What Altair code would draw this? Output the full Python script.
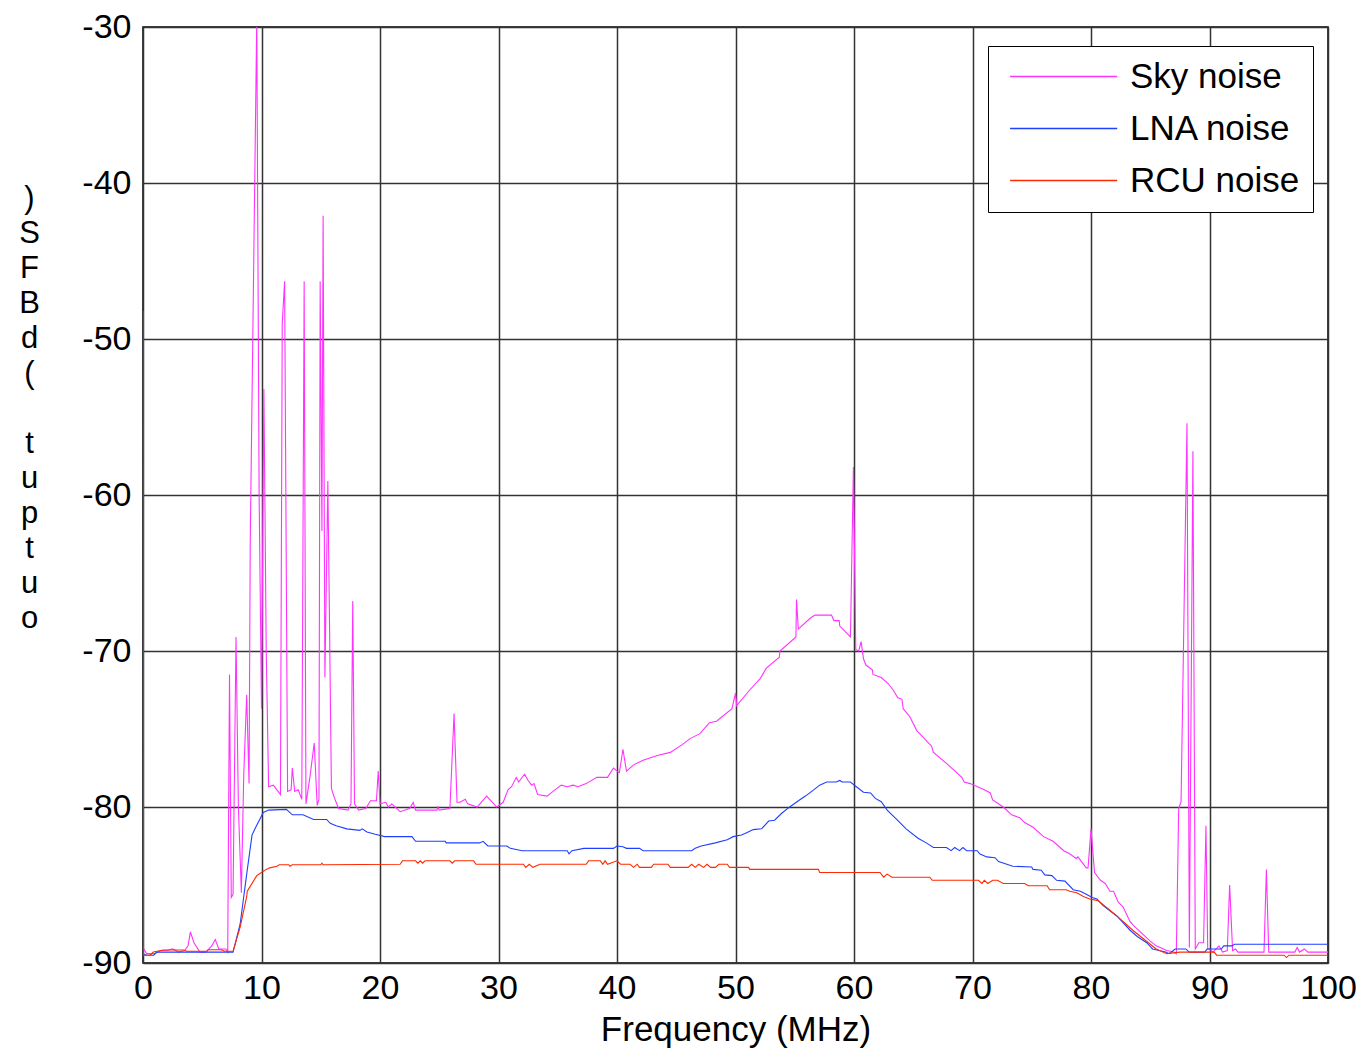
import altair as alt
import pandas as pd

# ---------------- data ----------------
series_names = ["Sky noise", "LNA noise", "RCU noise"]
series_colors = ["#ff33ff", "#1f3fff", "#ff2a00"]

sky_freq = [0.0, 0.3, 1.0, 1.5, 2.0, 2.5, 3.0, 3.5, 3.8, 4.0, 4.3, 4.8, 5.3, 5.8, 6.1, 6.4, 7.0, 7.15,
            7.3, 7.45, 7.6, 7.85, 8.05, 8.3, 8.5, 8.75, 8.95, 9.05, 9.6, 9.8, 10.0, 10.2, 10.4, 10.6,
            11.0, 11.3, 11.6, 11.75, 11.95, 12.2, 12.5, 12.6, 12.8, 13.1, 13.4, 13.6, 13.75, 14.1,
            14.45, 14.7, 14.85, 14.95, 15.1, 15.2, 15.35, 15.6, 15.9, 16.1, 16.5, 17.3, 17.55, 17.7,
            17.85, 18.2, 18.8, 19.2, 19.7, 19.85, 20.0, 20.5, 20.7, 21.0, 21.7, 22.5, 22.8, 23.0,
            24.8, 24.9, 25.0, 25.9, 26.25, 26.5, 26.75, 27.2, 27.4, 28.2, 29.0, 29.85, 30.4, 30.8,
            31.1, 31.5, 31.7, 32.2, 32.5, 32.8, 33.0, 33.3, 34.1, 34.6, 35.3, 35.8, 36.3, 36.7,
            37.4, 38.3, 39.2, 39.7, 40.0, 40.2, 40.5, 40.8, 41.4, 42.2, 43.4, 44.5, 45.5, 46.2,
            47.0, 47.8, 48.4, 49.7, 50.0, 50.1, 51.2, 52.1, 52.6, 53.7, 53.75, 55.1, 55.15, 55.3,
            56.3, 56.7, 58.1, 58.3, 58.75, 58.8, 59.7, 59.95, 60.15, 60.4, 60.6, 60.8, 61.0, 61.55,
            61.6, 62.3, 62.9, 63.3, 63.7, 64.05, 64.15, 64.7, 65.3, 66.55, 66.7, 67.8, 69.1, 69.3,
            69.8, 71.0, 71.5, 71.7, 72.6, 73.3, 74.0, 74.4, 75.1, 76.0, 76.8, 77.7, 78.2, 78.75,
            78.9, 79.6, 79.75, 80.0, 80.3, 80.8, 81.2, 81.6, 81.9, 82.3, 82.7, 83.3, 83.6, 85.0,
            85.5, 86.4, 87.0, 87.2, 87.4, 87.6, 88.1, 88.3, 88.6, 88.8, 89.1, 89.5, 89.7, 89.85,
            90.0, 90.3, 90.8, 91.1, 91.5, 91.7, 91.95, 92.2, 92.4, 94.6, 94.8, 95.0, 97.2, 97.4,
            97.6, 98.0, 98.3, 100.0]
sky_db = [-89.0, -89.4, -89.4, -89.2, -89.2, -89.1, -89.3, -89.2, -88.9, -88.0, -88.7, -89.3, -89.3,
          -88.9, -88.5, -89.1, -89.1, -89.3,
          -71.5, -85.8, -85.6, -69.1, -80.0, -85.5, -78.0, -72.8, -78.5, -63.0, -29.5, -60.0, -73.7,
          -53.2, -70.0, -78.7,
          -78.6, -78.9, -79.2, -49.0, -46.3, -79.0, -78.9, -77.5, -79.0, -78.9, -79.5, -46.3, -79.8,
          -78.0,
          -75.9, -79.9, -79.5, -46.3, -62.3, -42.1, -71.7, -59.1, -78.8, -79.3, -80.1, -80.2, -79.8,
          -66.8,
          -79.8, -80.2, -80.1, -79.6, -79.6, -77.7, -79.8, -79.7, -80.0, -79.8, -80.3, -80.1, -79.7,
          -80.2,
          -80.2, -80.0, -80.2, -80.1, -74.0, -79.7, -79.7, -79.5, -79.8, -80.0, -79.3, -80.0, -79.7,
          -78.9,
          -78.7, -78.1, -78.4, -77.9, -78.3, -78.6, -78.5, -79.2, -79.3, -79.0, -78.6, -78.7, -78.6,
          -78.7,
          -78.5, -78.1, -78.1, -77.5, -77.7, -77.8, -76.3, -77.7, -77.3, -77.0, -76.7, -76.5, -76.0,
          -75.6,
          -75.3, -74.6, -74.5, -73.7, -72.7, -73.5, -72.5, -71.75, -71.1, -70.4, -70.0, -69.1, -66.7,
          -68.6,
          -67.9, -67.7, -67.7, -68.05, -68.05, -68.4, -69.1, -58.2, -69.9, -70.0, -69.4, -70.5, -70.9,
          -71.2,
          -71.5, -71.7, -72.1, -72.5, -73.0, -73.1, -73.7, -74.2, -75.1, -76.1, -76.5, -77.2, -78.1,
          -78.4,
          -78.5, -78.9, -79.1, -79.55, -80.0, -80.5, -80.7, -81.0, -81.3, -81.9, -82.2, -82.8, -83.0,
          -83.3,
          -83.2, -83.9, -83.9, -81.4, -84.2, -84.7, -84.9, -85.4, -85.4, -86.1, -86.4, -87.35, -87.6,
          -88.6,
          -88.9, -89.2, -89.3, -89.4, -80.1, -79.65, -55.4, -89.0, -57.2, -89.1, -88.7, -88.7, -81.2,
          -89.1,
          -89.1, -89.3, -88.9, -89.3, -89.2, -85.0, -89.2, -89.1, -89.3, -89.3, -84.0, -89.3, -89.3,
          -89.0,
          -89.3, -89.1, -89.3, -89.3]

lna_freq = [0.0, 0.3, 0.9, 1.15, 7.6, 8.2, 8.75, 9.2, 9.45, 10.15, 10.6, 12.1, 12.6, 13.5, 14.4, 15.5,
            15.8, 16.3, 17.2, 18.3, 18.5, 18.9, 19.6, 20.4, 22.7, 23.0, 25.5, 25.6, 28.4, 28.7, 29.1,
            30.7, 31.0, 32.0, 35.8, 35.95, 36.2, 37.2, 39.7, 40.0, 40.5, 40.8, 41.9, 42.2, 46.3, 46.6,
            47.1, 48.3, 49.3, 49.8, 50.5, 50.8, 51.5, 52.2, 52.8, 53.3, 53.9, 54.6, 55.4, 55.9, 56.6,
            57.1, 57.7, 58.5, 58.8, 59.0, 59.7, 60.2, 60.8, 61.4, 61.8, 62.3, 62.8, 63.6, 64.4, 65.4,
            66.1, 66.7, 67.8, 68.2, 68.5, 68.9, 69.2, 69.5, 70.4, 70.6, 71.2, 71.9, 72.2, 73.4, 75.0,
            75.1, 75.8, 76.1, 76.7, 77.1, 77.8, 78.5, 79.1, 79.6, 80.1, 80.5, 81.0, 82.2, 83.3, 83.9,
            84.7, 85.2, 86.3, 86.6, 87.1, 88.0, 88.3, 89.6, 89.8, 91.0, 91.2, 91.9, 92.1, 100.0]
lna_db = [-89.4, -89.5, -89.5, -89.3, -89.3, -87.5, -84.3, -81.8, -81.4, -80.35, -80.2, -80.15, -80.5,
          -80.5, -80.8, -80.8,
          -81.05, -81.2, -81.4, -81.5, -81.4, -81.6, -81.75, -81.9, -81.9, -82.2, -82.2, -82.3, -82.3,
          -82.2, -82.5,
          -82.5, -82.65, -82.8, -82.8, -83.0, -82.8, -82.65, -82.65, -82.5, -82.55, -82.65, -82.65,
          -82.8, -82.8, -82.65,
          -82.5, -82.3, -82.1, -81.9, -81.8, -81.7, -81.45, -81.4, -80.9, -80.85, -80.4, -79.98,
          -79.55, -79.3, -78.9,
          -78.6, -78.4, -78.4, -78.3, -78.4, -78.4, -78.7, -79.05, -79.1, -79.45, -79.66, -80.2,
          -80.8, -81.4, -82.0,
          -82.3, -82.6, -82.6, -82.8, -82.6, -82.8, -82.6, -82.8, -82.8, -83.0, -83.2, -83.25, -83.5,
          -83.8, -83.85,
          -84.0, -84.05, -84.35, -84.4, -84.7, -84.75, -85.3, -85.4, -85.6, -85.8, -85.9, -86.3,
          -87.0, -87.9, -88.3,
          -88.7, -89.1, -89.3, -89.4, -89.1, -89.1, -89.3, -89.3, -89.1, -89.1, -88.9, -88.9, -88.8,
          -88.8]

rcu_freq = [0.0, 0.02, 0.6, 0.87, 1.7, 3.4, 3.7, 5.4, 5.5, 6.6, 6.9, 7.6, 8.2, 8.75, 8.8, 9.6, 9.9,
            10.4, 10.7, 11.3, 11.5, 12.3, 12.4, 12.6, 15.0, 15.1, 15.2, 21.7, 21.9, 23.0, 23.2, 23.4,
            23.6, 23.8, 25.9, 26.1, 26.3, 27.9, 28.1, 32.1, 32.3, 32.6, 32.9, 33.5, 37.4, 37.6, 38.6,
            38.8, 39.0, 39.2, 40.0, 40.3, 41.1, 41.4, 41.7, 41.9, 42.9, 43.1, 44.3, 44.5, 46.0, 46.3,
            46.6, 46.9, 47.3, 47.6, 47.9, 48.3, 48.6, 49.3, 49.5, 51.1, 51.2, 57.0, 57.1, 62.2, 62.5,
            62.8, 63.2, 66.4, 66.6, 70.5, 70.8, 71.0, 71.3, 71.7, 72.1, 72.6, 74.4, 74.7, 76.3, 76.5,
            77.9, 78.2, 78.8, 79.4, 79.9, 80.6, 82.2, 83.6, 85.0, 85.5, 86.4, 87.5, 90.4, 90.6, 96.3,
            96.5, 96.7, 100.0]
rcu_db = [-48.2, -89.5, -89.5, -89.3, -89.17, -89.17, -89.25, -89.25, -89.15, -89.15, -89.25, -89.25,
          -87.7, -85.75, -85.4, -84.4, -84.25,
          -84.0, -83.9, -83.8, -83.7, -83.7, -83.8, -83.7, -83.7, -83.6, -83.7, -83.67, -83.45,
          -83.45, -83.6, -83.45,
          -83.6, -83.45, -83.45, -83.6, -83.45, -83.45, -83.67, -83.67, -83.87, -83.67, -83.87,
          -83.67, -83.67, -83.45, -83.45,
          -83.67, -83.45, -83.67, -83.45, -83.67, -83.67, -83.87, -83.67, -83.87, -83.87, -83.67,
          -83.67, -83.87, -83.87, -83.67,
          -83.87, -83.67, -83.87, -83.67, -83.87, -83.87, -83.67, -83.67, -83.87, -83.87, -84.0,
          -84.0, -84.2, -84.2, -84.5,
          -84.3, -84.5, -84.5, -84.7, -84.7, -84.9, -84.7, -84.9, -84.7, -84.7, -84.9, -84.9, -85.05,
          -85.05, -85.3,
          -85.3, -85.4, -85.5, -85.75, -85.9, -86.0, -87.0, -87.95, -88.8, -89.1, -89.4, -89.3,
          -89.3, -89.5, -89.5,
          -89.65, -89.5, -89.5]

x_ticks = [0, 10, 20, 30, 40, 50, 60, 70, 80, 90, 100]
y_ticks = [-90, -80, -70, -60, -50, -40, -30]
x_title = "Frequency (MHz)"
# y title as it appears: the characters of "output (dBFS)" stacked top to bottom, reversed
# (the gap between "(" and "t" is the space of the original title; a blank glyph keeps the line)
y_title_lines = [")", "S", "F", "B", "d", "(", "\u2800", "t", "u", "p", "t", "u", "o"]

# ---------------- build the table ----------------
frames = []
for name, fr, db in [(series_names[0], sky_freq, sky_db),
                     (series_names[1], lna_freq, lna_db),
                     (series_names[2], rcu_freq, rcu_db)]:
    assert len(fr) == len(db), name
    frames.append(pd.DataFrame({"freq": fr, "db": db, "series": name, "idx": range(len(fr))}))

FONT = "Liberation Sans"

color = alt.Color(
    "series:N",
    scale=alt.Scale(domain=series_names, range=series_colors),
    legend=alt.Legend(
        title=None,
        orient="none",
        legendX=845,
        legendY=19,
        symbolType="M-0.8,0H9.4",
        symbolSize=441,
        symbolStrokeWidth=1.5,
        symbolFillColor="transparent",
        labelFontSize=35,
        labelFont=FONT,
        labelColor="black",
        labelOffset=94,
        labelLimit=400,
        padding=13,
        rowPadding=16,
        strokeColor="black",
        fillColor="white",
        cornerRadius=0,
    ),
)

x = alt.X("freq:Q", scale=alt.Scale(domain=[0, 100], nice=False),
          axis=alt.Axis(values=x_ticks, title=x_title, labelExpr="toString(datum.value)",
                        labelFlush=False))
y = alt.Y("db:Q", scale=alt.Scale(domain=[-90, -30], nice=False, zero=False),
          axis=alt.Axis(values=y_ticks, title=y_title_lines, labelExpr="toString(datum.value)",
                        labelFlush=False,
                        titleAngle=0, titleX=-114, titleY=156, titleAlign="center",
                        titleBaseline="top", titleLineHeight=35, titleFontSize=31,
                        titleFontWeight="normal"))

layers = []
for df in frames:
    layers.append(
        alt.Chart(df).mark_line(strokeWidth=1.1, clip=True).encode(
            x=x, y=y, color=color, order="idx:Q"
        )
    )

chart = alt.layer(*layers).properties(
    width=1185,
    height=936,
    autosize=alt.AutoSizeParams(type="none"),
    padding={"left": 135, "top": 19, "right": 28, "bottom": 86},
    background="white",
).configure_view(
    stroke="black", strokeWidth=1.5
).configure_axis(
    grid=True,
    gridColor="#333333",
    gridWidth=1.5,
    gridOpacity=1,
    domain=False,
    ticks=False,
    labelFont=FONT,
    labelFontSize=34,
    labelColor="black",
    titleFont=FONT,
    titleColor="black",
    titleFontWeight="normal",
).configure_axisX(
    labelPadding=8,
    titleFontSize=35,
    titlePadding=7,
).configure_axisY(
    labelPadding=12,
)

chart.save("out.html", embed_options={"renderer": "svg", "actions": False})
